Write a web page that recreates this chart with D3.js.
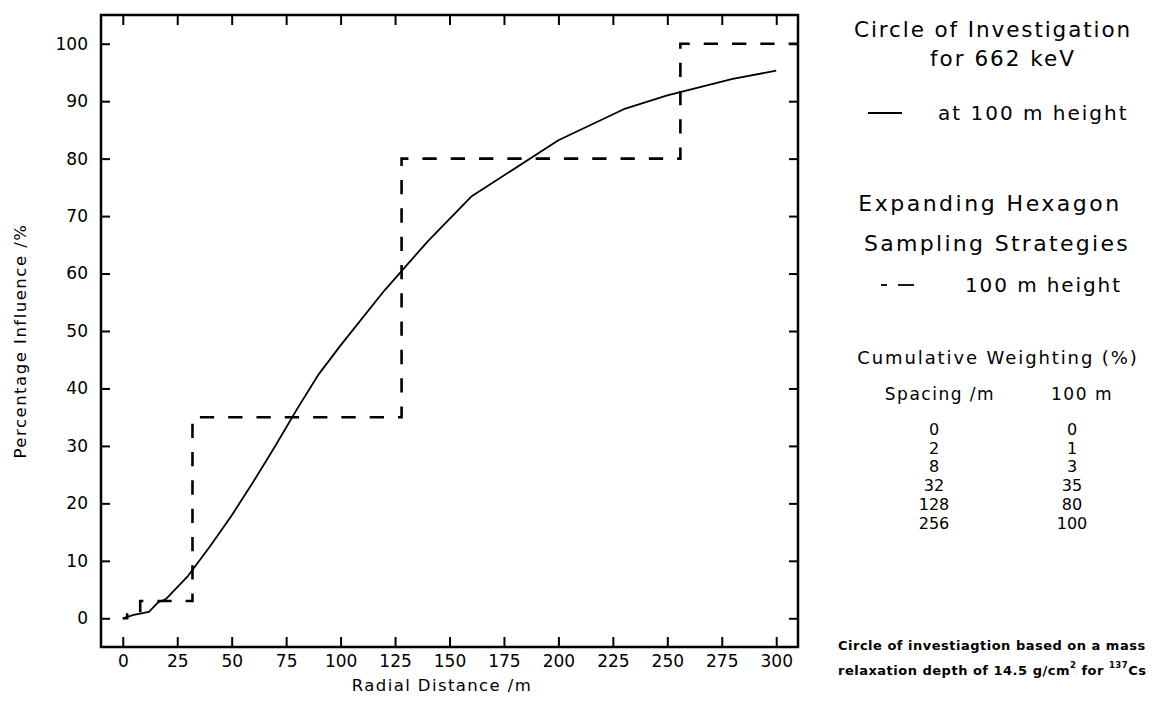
<!DOCTYPE html>
<html><head><meta charset="utf-8">
<script src="https://cdn.jsdelivr.net/npm/d3@7"></script>
<style>
body{margin:0;background:#fff}
text{font-family:"DejaVu Sans",sans-serif;fill:#000}
</style>
</head><body>
<svg id="c" width="1155" height="720"></svg>
<script>
// ---- data ----
const curveX = [0, 5, 8, 12, 16, 20, 30, 40, 50, 60, 70, 80, 90, 100, 120, 140, 160, 200, 230, 250, 280, 300];
const curveY = [0, 0.6, 0.8, 1.1, 2.7, 3.4, 7.4, 12.5, 17.9, 23.8, 30.0, 36.4, 42.5, 47.5, 57.0, 65.6, 73.4, 83.2, 88.6, 91.0, 93.9, 95.3];
const spacing = [0, 2, 8, 32, 128, 256];
const weighting = [0, 1, 3, 35, 80, 100];
const xTicks = [0, 25, 50, 75, 100, 125, 150, 175, 200, 225, 250, 275, 300];
const yTicks = [0, 10, 20, 30, 40, 50, 60, 70, 80, 90, 100];
const xDomain = [-10, 310];
const yDomain = [-5, 105];

// ---- layout ----
const svg = d3.select("#c");
const L = 101, R = 798, T = 15, B = 647;
const x = d3.scaleLinear().domain(xDomain).range([L, R]);
const y = d3.scaleLinear().domain(yDomain).range([B, T]);

// axes (ticks inward on all four sides)
const gB = svg.append("g").attr("transform", `translate(0,${B})`)
  .call(d3.axisBottom(x).tickValues(xTicks).tickSize(-10).tickPadding(8).tickFormat(d3.format("d")));
const gT = svg.append("g").attr("transform", `translate(0,${T})`)
  .call(d3.axisTop(x).tickValues(xTicks).tickSize(-10).tickFormat(""));
const gL = svg.append("g").attr("transform", `translate(${L},0)`)
  .call(d3.axisLeft(y).tickValues(yTicks).tickSize(-9).tickPadding(13).tickFormat(d3.format("d")));
const gR = svg.append("g").attr("transform", `translate(${R},0)`)
  .call(d3.axisRight(y).tickValues(yTicks).tickSize(-9).tickFormat(""));
[gB, gT, gL, gR].forEach(g => {
  g.select(".domain").remove();
  g.selectAll(".tick line").attr("stroke", "#000").attr("stroke-width", 2);
  g.selectAll(".tick text").attr("font-size", 17).attr("font-family", "DejaVu Sans").attr("fill", "#000");
});

// frame
svg.append("rect").attr("x", L).attr("y", T).attr("width", R - L).attr("height", B - T)
  .attr("fill", "none").attr("stroke", "#000").attr("stroke-width", 2.5);

// solid curve
const pts = curveX.map((d, i) => [d, curveY[i]]);
svg.append("path").datum(pts)
  .attr("d", d3.line().x(d => x(d[0])).y(d => y(d[1])))
  .attr("fill", "none").attr("stroke", "#000").attr("stroke-width", 1.8).attr("stroke-linejoin", "round");

// dashed step (cumulative weighting)
const step = [[spacing[0], weighting[0]]];
for (let i = 1; i < spacing.length; i++) {
  step.push([spacing[i], weighting[i - 1]]);
  step.push([spacing[i], weighting[i]]);
}
step.push([xDomain[1], weighting[weighting.length - 1]]);
svg.append("path").datum(step)
  .attr("d", d3.line().x(d => x(d[0])).y(d => y(d[1])))
  .attr("fill", "none").attr("stroke", "#000").attr("stroke-width", 2.6)
  .attr("stroke-dasharray", "14.3,14").attr("stroke-dashoffset", 4.8);

// axis titles
svg.append("text").attr("x", 442).attr("y", 691).attr("text-anchor", "middle")
  .attr("font-size", 16.5).attr("letter-spacing", 1.4).text("Radial Distance /m");
svg.append("text").attr("transform", `translate(26,${(T + B) / 2 + 10}) rotate(-90)`).attr("text-anchor", "middle")
  .attr("font-size", 16.5).attr("letter-spacing", 1.5).text("Percentage Influence /%");

// right panel
function t(xp, yp, s, size, ls, anchor) {
  return svg.append("text").attr("x", xp).attr("y", yp).attr("font-size", size)
    .attr("letter-spacing", ls).attr("text-anchor", anchor || "middle").text(s);
}
t(993, 37, "Circle of Investigation", 21.5, 1.9);
t(1003, 66, "for 662 keV", 21.5, 2.0);
svg.append("line").attr("x1", 868).attr("x2", 902).attr("y1", 113).attr("y2", 113)
  .attr("stroke", "#000").attr("stroke-width", 1.8);
t(938, 120, "at 100 m height", 20, 2.0, "start");
t(990, 211, "Expanding Hexagon", 22, 2.5);
t(997, 251, "Sampling Strategies", 22, 2.3);
svg.append("line").attr("x1", 881).attr("x2", 887).attr("y1", 285).attr("y2", 285)
  .attr("stroke", "#000").attr("stroke-width", 1.8);
svg.append("line").attr("x1", 898).attr("x2", 914).attr("y1", 285).attr("y2", 285)
  .attr("stroke", "#000").attr("stroke-width", 1.8);
t(965, 292, "100 m height", 20, 1.9, "start");
t(998, 364, "Cumulative Weighting (%)", 18, 1.9);
t(940, 400, "Spacing /m", 17, 1.5);
t(1082, 400, "100 m", 17, 1.5);
spacing.forEach((s, i) => {
  svg.append("text").attr("x", 934).attr("y", 435 + i * 18.7).attr("text-anchor", "middle")
    .attr("font-size", 16).text(s);
  svg.append("text").attr("x", 1072).attr("y", 435 + i * 18.7).attr("text-anchor", "middle")
    .attr("font-size", 16).text(weighting[i]);
});

// footnote
svg.append("text").attr("x", 838).attr("y", 650).attr("font-size", 13).attr("font-weight", "bold")
  .attr("letter-spacing", 0.5).text("Circle of investiagtion based on a mass");
const fn = svg.append("text").attr("x", 838).attr("y", 675).attr("font-size", 13).attr("font-weight", "bold")
  .attr("letter-spacing", 0.5);
fn.append("tspan").text("relaxation depth of 14.5 g/cm");
fn.append("tspan").attr("font-size", 8.5).attr("dy", -7).text("2");
fn.append("tspan").attr("dy", 7).text(" for  ");
fn.append("tspan").attr("font-size", 8.5).attr("dy", -7).text("137");
fn.append("tspan").attr("dy", 7).text("Cs");
</script>
</body></html>
